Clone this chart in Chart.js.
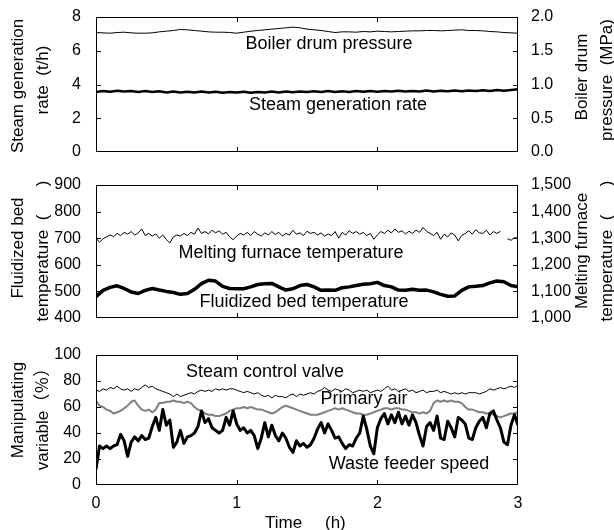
<!DOCTYPE html>
<html>
<head>
<meta charset="utf-8">
<script src="https://cdn.jsdelivr.net/npm/chart.js@4.4.1/dist/chart.umd.min.js"></script>
<style>
  html, body { margin: 0; padding: 0; background: #fff; }
  #wrap { position: relative; width: 614px; height: 530px; overflow: hidden; }
  canvas { position: absolute; left: 0; }
</style>
</head>
<body>
<div id="wrap">
  <canvas id="c1" width="614" height="170" style="top:0px"></canvas>
  <canvas id="c2" width="614" height="170" style="top:170px"></canvas>
  <canvas id="c3" width="614" height="190" style="top:340px"></canvas>
</div>
<script>
const FONT = '"Liberation Sans", Arial, "Noto Sans CJK JP", sans-serif';

// sample times (h)
const timeCoarse = [
  0,0.05,0.1,0.15,0.2,0.25,0.3,0.35,0.4,0.45,
  0.5,0.55,0.6,0.65,0.7,0.75,0.8,0.85,0.9,0.95,
  1,1.05,1.1,1.15,1.2,1.25,1.3,1.35,1.4,1.45,
  1.5,1.55,1.6,1.65,1.7,1.75,1.8,1.85,1.9,1.95,
  2,2.05,2.1,2.15,2.2,2.25,2.3,2.35,2.4,2.45,
  2.5,2.55,2.6,2.65,2.7,2.75,2.8,2.85,2.9,2.95,
  3
];
const timeFine = [
  0,0.025,0.05,0.075,0.1,0.125,0.15,0.175,0.2,0.225,
  0.25,0.275,0.3,0.325,0.35,0.375,0.4,0.425,0.45,0.475,
  0.5,0.525,0.55,0.575,0.6,0.625,0.65,0.675,0.7,0.725,
  0.75,0.775,0.8,0.825,0.85,0.875,0.9,0.925,0.95,0.975,
  1,1.025,1.05,1.075,1.1,1.125,1.15,1.175,1.2,1.225,
  1.25,1.275,1.3,1.325,1.35,1.375,1.4,1.425,1.45,1.475,
  1.5,1.525,1.55,1.575,1.6,1.625,1.65,1.675,1.7,1.725,
  1.75,1.775,1.8,1.825,1.85,1.875,1.9,1.925,1.95,1.975,
  2,2.025,2.05,2.075,2.1,2.125,2.15,2.175,2.2,2.225,
  2.25,2.275,2.3,2.325,2.35,2.375,2.4,2.425,2.45,2.475,
  2.5,2.525,2.55,2.575,2.6,2.625,2.65,2.675,2.7,2.725,
  2.75,2.775,2.8,2.825,2.85,2.875,2.9,2.925,2.95,2.975,
  3
];
const hourTicks = [0, 1, 2, 3];

// top panel: steam generation rate (t/h), boiler drum pressure (MPa)
const steamRate = [
  3.55,3.62,3.57,3.63,3.58,3.62,3.56,3.61,3.55,3.60,
  3.53,3.58,3.52,3.57,3.53,3.58,3.52,3.57,3.51,3.56,
  3.52,3.57,3.51,3.56,3.52,3.58,3.53,3.58,3.54,3.59,
  3.55,3.60,3.55,3.61,3.56,3.60,3.56,3.62,3.57,3.61,
  3.57,3.62,3.58,3.63,3.58,3.62,3.58,3.64,3.59,3.63,
  3.60,3.65,3.60,3.64,3.61,3.66,3.62,3.67,3.63,3.68,
  3.72
];
const drumPressure = [
  1.77,1.765,1.76,1.77,1.775,1.765,1.76,1.76,1.765,1.78,
  1.79,1.80,1.815,1.81,1.80,1.79,1.78,1.775,1.775,1.77,
  1.76,1.775,1.79,1.80,1.81,1.82,1.83,1.84,1.85,1.84,
  1.82,1.81,1.80,1.785,1.77,1.78,1.78,1.775,1.785,1.78,
  1.79,1.785,1.78,1.785,1.79,1.795,1.795,1.80,1.80,1.795,
  1.80,1.805,1.81,1.80,1.80,1.795,1.785,1.78,1.77,1.765,
  1.76
];

// middle panel: fluidized bed temp (left), melting furnace temp (right)
const bedTemp = [
  480,504,515,521,511,498,492,504,511,505,
  500,496,489,492,508,529,542,539,519,511,
  510,510,517,526,529,530,517,505,510,522,
  526,517,504,505,504,514,517,522,527,529,
  534,522,517,505,504,508,504,505,498,489,
  482,483,504,517,519,522,532,539,536,522,
  517
];
const furnaceTemp = [
  1300,1285,1298,1305,1312,1306,1318,1310,1322,1315,
  1325,1312,1320,1335,1310,1318,1308,1316,1300,1312,
  1295,1282,1305,1312,1308,1318,1310,1322,1315,1338,
  1318,1325,1316,1330,1320,1328,1315,1322,1305,1294,
  1308,1318,1312,1322,1310,1325,1315,1308,1320,1312,
  1325,1314,1322,1308,1318,1312,1330,1315,1320,1310,
  1326,1318,1322,1312,1320,1308,1316,1310,1325,1300,
  1322,1312,1328,1318,1325,1315,1322,1310,1318,1296,
  1312,1325,1318,1330,1320,1335,1322,1328,1316,1326,
  1318,1330,1322,1340,1326,1318,1310,1322,1296,1315,
  1305,1320,1312,1290,1310,1318,1328,1315,1332,1320,
  1318,1330,1312,1325,1318,1326,null,1298,1292,1302,
  1300
];

// bottom panel: manipulating variables (%)
const valveOpen = [
  73,72,74,73,75,74,76,74,73,74,
  72,74,73,75,77,75,76,74,73,72,
  71,70,68,70,68,69,70,71,70,72,
  73,72,73,72,74,73,74,73,74,74,
  73,72,71,72,71,70,71,69,68,69,
  67,69,68,68,67,69,70,68,70,69,
  70,71,70,72,73,75,73,72,74,73,
  72,74,73,71,72,73,72,73,71,72,
  73,72,74,76,73,74,72,73,74,72,
  73,71,72,73,71,72,72,73,71,72,
  71,70,71,70,71,70,71,71,71,70,
  71,72,74,73,74,75,74,75,76,75,
  77
];
const primaryAir = [
  65,61,60,58,57,55,56,57,59,61,
  64,65,61,58,57,58,56,58,63,63,
  64,64,65,64,64,63,64,63,60,58,
  57,55,54,54,53,53,54,55,57,58,
  59,59,60,59,60,59,58,58,57,56,
  55,56,58,60,61,60,59,58,57,56,
  55,54,54,54,55,56,57,58,59,58,
  59,58,57,56,55,55,54,54,55,56,
  57,58,59,59,58,59,59,58,58,57,
  56,56,55,56,55,57,63,65,64,65,
  64,65,64,64,63,60,58,58,57,56,
  56,55,55,54,53,52,53,54,55,55,
  56
];
const feederSpeed = [
  12,30,28,30,28,30,31,39,34,22,
  33,37,34,38,35,36,45,52,42,58,
  46,50,29,33,42,32,37,38,40,45,
  57,48,51,44,42,40,42,52,46,57,
  47,42,44,40,42,38,28,36,48,37,
  46,38,34,40,36,29,25,34,30,32,
  29,31,36,43,48,40,47,42,36,37,
  32,28,31,30,36,40,53,43,30,24,
  44,51,55,47,54,48,56,47,53,46,
  54,48,38,30,45,48,42,53,36,35,
  49,44,37,52,50,47,36,35,44,49,
  52,44,55,57,50,44,33,31,46,54,
  46
];

function pts(times, vals) {
  return vals.map((v, i) => ({ x: times[i], y: v }));
}

function line(times, vals, width, color, axis) {
  return {
    data: pts(times, vals),
    borderColor: color,
    borderWidth: width,
    pointRadius: 0,
    tension: 0,
    yAxisID: axis,
    borderJoinStyle: 'round'
  };
}

function yAxis(pos, min, max, step, fmt, pad) {
  return {
    type: 'linear', position: pos, min: min, max: max,
    grid: { display: false },
    border: { display: false },
    ticks: {
      stepSize: step, padding: pad, color: '#000', autoSkip: false,
      font: { family: FONT, size: 16, lineHeight: 1 },
      callback: fmt
    },
    afterFit(s) { s.width = 96; }
  };
}

function xAxis(show) {
  return {
    type: 'linear', min: 0, max: 3, display: show,
    grid: { display: false },
    border: { display: false },
    ticks: {
      stepSize: 1, padding: 1, color: '#000',
      font: { family: FONT, size: 16 },
      callback: v => hourTicks.includes(v) ? String(v) : ''
    },
    afterFit(s) { if (show) s.height = 45; }
  };
}

// frame, inward ticks, axis titles and curve labels
function decor(o) {
  return {
    id: 'decor',
    afterDraw(chart) {
      const ctx = chart.ctx, a = chart.chartArea;
      const sx = chart.scales.x, yl = chart.scales.yl;
      const yr = chart.scales.yr || yl;
      ctx.save();
      ctx.strokeStyle = '#000';
      ctx.lineWidth = 1;
      ctx.strokeRect(a.left + 0.5, a.top + 0.5, a.right - a.left - 1, a.bottom - a.top - 1);
      ctx.beginPath();
      [1, 2].forEach(t => {
        const px = Math.round(sx.getPixelForValue(t)) + 0.5;
        ctx.moveTo(px, a.top); ctx.lineTo(px, a.top + 5);
        ctx.moveTo(px, a.bottom); ctx.lineTo(px, a.bottom - 5);
      });
      o.leftTicks.forEach(v => {
        const py = Math.round(yl.getPixelForValue(v)) + 0.5;
        ctx.moveTo(a.left, py); ctx.lineTo(a.left + 5, py);
      });
      o.rightTicks.forEach(v => {
        const py = Math.round(yr.getPixelForValue(v)) + 0.5;
        ctx.moveTo(a.right, py); ctx.lineTo(a.right - 5, py);
      });
      ctx.stroke();

      ctx.fillStyle = '#000';
      ctx.textAlign = 'center';
      ctx.textBaseline = 'middle';
      ctx.font = '17px ' + FONT;
      o.titles.forEach(([txt, x, y]) => {
        ctx.save();
        ctx.translate(x, y - o.top);
        ctx.rotate(-Math.PI / 2);
        ctx.fillText(txt, 0, 0);
        ctx.restore();
      });
      ctx.font = '18px ' + FONT;
      o.labels.forEach(([txt, x, y]) => ctx.fillText(txt, x, y - o.top));
      if (o.timeTitle) {
        ctx.font = '17px ' + FONT;
        ctx.textAlign = 'left';
        ctx.fillText('Time', 265, 523 - o.top);
        ctx.fillText('(h)', 325, 523 - o.top);
      }
      ctx.restore();
    }
  };
}

const common = {
  responsive: false,
  maintainAspectRatio: false,
  devicePixelRatio: 1,
  animation: false,
  plugins: { legend: { display: false }, tooltip: { enabled: false } }
};

new Chart(document.getElementById('c1'), {
  type: 'line',
  data: {
    datasets: [
      line(timeCoarse, steamRate, 2.5, '#000', 'yl'),
      line(timeCoarse, drumPressure, 1, '#000', 'yr')
    ]
  },
  options: Object.assign({}, common, {
    layout: { padding: { top: 17, bottom: 18, left: 0, right: 0 } },
    scales: {
      x: xAxis(false),
      yl: yAxis('left', 0, 8, 2, v => v, 7),
      yr: yAxis('right', 0, 2, 0.5, v => v.toFixed(1), 5)
    }
  }),
  plugins: [decor({
    top: 0,
    leftTicks: [2, 4, 6],
    rightTicks: [0.5, 1, 1.5],
    titles: [['Steam generation', 18, 86], ['rate  (t/h)', 43, 80],
             ['Boiler drum', 582, 77], ['pressure  (MPa)', 607, 80]],
    labels: [['Boiler drum pressure', 329, 44], ['Steam generation rate', 338, 105]]
  })]
});

new Chart(document.getElementById('c2'), {
  type: 'line',
  data: {
    datasets: [
      line(timeCoarse, bedTemp, 3.5, '#000', 'yl'),
      line(timeFine, furnaceTemp, 1, '#000', 'yr')
    ]
  },
  options: Object.assign({}, common, {
    layout: { padding: { top: 14, bottom: 22, left: 0, right: 0 } },
    scales: {
      x: xAxis(false),
      yl: yAxis('left', 400, 900, 100, v => v, 7),
      yr: yAxis('right', 1000, 1500, 100, v => v.toLocaleString('en-US'), 5)
    }
  }),
  plugins: [decor({
    top: 170,
    leftTicks: [500, 600, 700, 800],
    rightTicks: [1100, 1200, 1300, 1400],
    titles: [['Fluidized bed', 18, 248], ['temperature  (      )', 43, 251],
             ['Melting furnace', 582, 251], ['temperature  (      )', 607, 251]],
    labels: [['Melting furnace temperature', 291, 253], ['Fluidized bed temperature', 304, 302]]
  })]
});

new Chart(document.getElementById('c3'), {
  type: 'line',
  data: {
    datasets: [
      line(timeFine, feederSpeed, 3, '#000', 'yl'),
      line(timeFine, primaryAir, 2, '#808080', 'yl'),
      line(timeFine, valveOpen, 1, '#000', 'yl')
    ]
  },
  options: Object.assign({}, common, {
    layout: { padding: { top: 11, bottom: 0, left: 0, right: 96 } },
    scales: {
      x: xAxis(true),
      yl: yAxis('left', 0, 100, 20, v => v, 7)
    }
  }),
  plugins: [decor({
    top: 340,
    leftTicks: [20, 40, 60, 80],
    rightTicks: [20, 40, 60, 80],
    titles: [['Manipulating', 18, 410], ['variable（％）', 43, 415]],
    labels: [['Steam control valve', 265, 372], ['Primary air', 364, 399], ['Waste feeder speed', 409, 464]],
    timeTitle: true
  })]
});
</script>
</body>
</html>
